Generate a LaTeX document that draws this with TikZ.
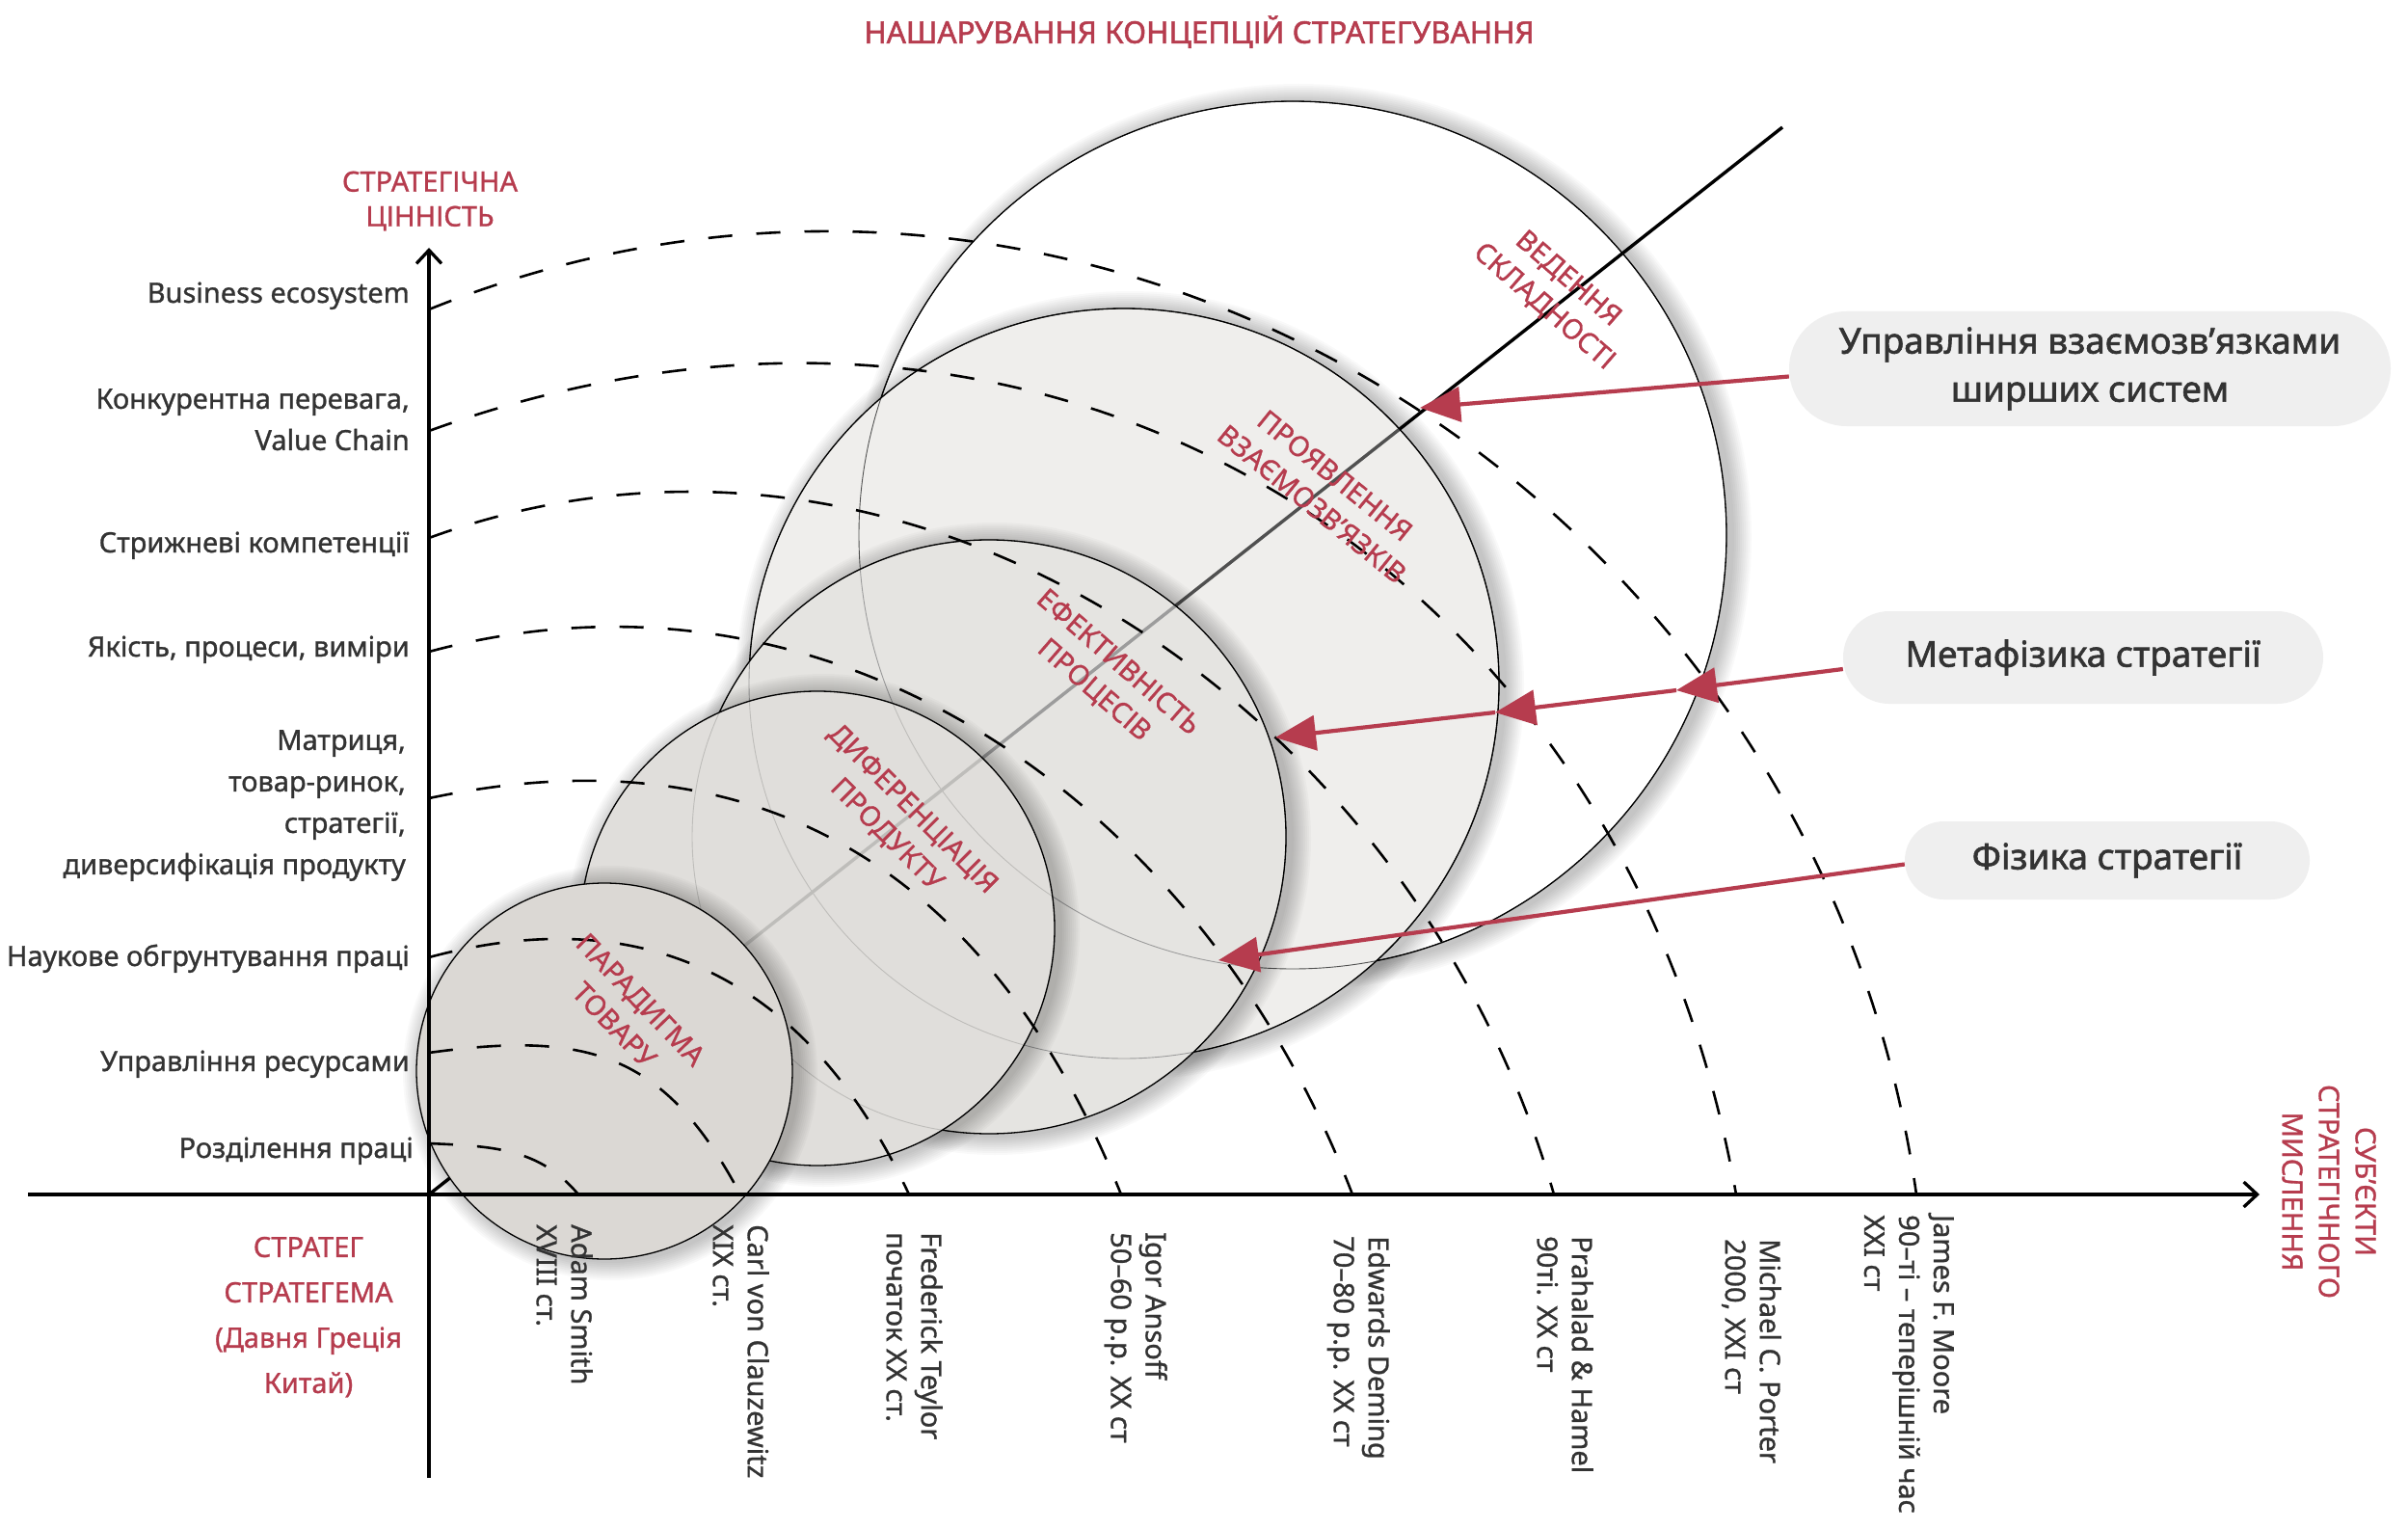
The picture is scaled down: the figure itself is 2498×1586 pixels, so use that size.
\documentclass[tikz,border=0pt]{standalone}
\usepackage{fontspec}
\setmainfont{Noto Sans}[FakeBold=1.0]
\newfontfamily\medfont[FakeBold=1.6]{Noto Sans}
\usetikzlibrary{arrows.meta,positioning,shapes.misc}

\definecolor{stratred}{HTML}{B63C4E}
\definecolor{labelgray}{HTML}{333333}
\definecolor{pillgray}{HTML}{EFEFEF}
\definecolor{fillB}{HTML}{EFEEEC}
\definecolor{fillC}{HTML}{E5E4E1}
\definecolor{fillD}{HTML}{E0DEDB}
\definecolor{fillE}{HTML}{DBD8D4}
\definecolor{lineB}{HTML}{505050}
\definecolor{lineC}{HTML}{9C9C9C}
\definecolor{lineD}{HTML}{BEBDBA}

\tikzset{
  ylab/.style={font=\fontsize{29}{43}\selectfont, text=labelgray, inner sep=0pt, align=right},
  xlab/.style={font=\fontsize{29}{36}\selectfont, text=labelgray, inner sep=0pt, align=left, rotate=-90, anchor=north west},
  redlab/.style={font=\fontsize{29}{38}\selectfont, text=stratred, inner sep=0pt, align=center},
  pill/.style={rounded rectangle, fill=pillgray, inner sep=0pt, font=\medfont\fontsize{37}{50}\selectfont, text=labelgray, align=center},
  era/.style={dash pattern=on 25pt off 25pt, line width=2.6pt},
  pointer/.style={draw=stratred, fill=stratred, line width=4.2pt, -{Triangle[length=42pt,width=36pt]}},
  axis/.style={line width=3.3pt, -{Straight Barb[length=14pt,width=26pt]}}
}

\begin{document}
\begin{tikzpicture}[x=1pt, y=1pt]
\useasboundingbox (0,0) rectangle (2498,-1586);
\fill[white] (0,0) rectangle (2498,-1586);
%\draw[step=100,gray,very thin] (0,0) grid (2498,-1586);
\coordinate (o) at (445,-1239);%%
\coordinate (d) at (1849,-132);%%
\draw[line width=3.4pt] (o) -- (d);%%
% circles, biggest first; shadow, fill, what shows through, outline
\foreach \cx/\cy/\r/\fc/\lc in {1341/-555/450/white/black, 1166/-709/389/fillB/lineB, 1026/-868/308/fillC/lineC, 848/-963/246/fillD/lineD, 627/-1111/195/fillE/fillE}{
  \foreach \s in {2,4,...,20} \fill[black, opacity=0.024] (\cx+6,\cy-2) circle (\r+\s);
  \fill[\fc] (\cx,\cy) circle (\r);
  \begin{scope}
    \clip (\cx,\cy) circle (\r);
    \draw[\lc, line width=3.4pt] (o) -- (d);
    \draw[\lc, line width=0.9pt] (1341,-555) circle (450) (1166,-709) circle (389) (1026,-868) circle (308) (848,-963) circle (246);
  \end{scope}
  \draw[line width=1.3pt] (\cx,\cy) circle (\r);
}
% axes
\draw[axis] (29,-1239) -- (2344,-1239);%%
\draw[axis] (445,-1533) -- (445,-257);%%
% dashed arcs from the value axis to the timeline
\draw[era] (445,-1186) .. controls (509,-1189) and (559,-1190) .. (600,-1239);%%
\draw[era] (445,-1092) .. controls (610,-1069) and (690,-1092) .. (768,-1239);%%
\draw[era] (445,-993) .. controls (676,-931) and (842,-1022) .. (943,-1239);%%
\draw[era] (445,-828) .. controls (793,-754) and (1030,-909) .. (1163,-1239);%%
\draw[era] (445,-676) .. controls (865,-563) and (1247,-833) .. (1403,-1239);%%
\draw[era] (445,-558) .. controls (942,-377) and (1466,-731) .. (1612,-1239);%%
\draw[era] (445,-447) .. controls (1080,-216) and (1684,-573) .. (1801,-1239);%%
\draw[era] (445,-321) .. controls (1129,-44) and (1885,-508) .. (1988,-1239);%%
% value axis
\node[ylab, anchor=base east] (ecosys) at (425,-314) {Business ecosystem};
\node[ylab, anchor=north east] (valuech) at (425,-403) {Конкурентна перевага,\\Value Chain};
\node[ylab, anchor=base east] (corecomp) at (425,-573) {Стрижневі компетенції};
\node[ylab, anchor=base east] (quality) at (425,-681) {Якість, процеси, виміри};
\node[ylab, anchor=north east] (matrix) at (421,-757) {Матриця,\\товар-ринок,\\стратегії,\\диверсифікація продукту};
\node[ylab, anchor=base east] (science) at (425,-1002) {Наукове обгрунтування праці};
\node[ylab, anchor=base east] (resource) at (425,-1111) {Управління ресурсами};
\node[ylab, anchor=base east] (division) at (429,-1201) {Розділення праці};
% timeline
\node[xlab] (smith) at (615,-1270) {Adam Smith\\XVIII ст.};
\node[xlab] (clausewitz) at (798,-1270) {Carl von Clauzewitz\\XIX ст.};
\node[xlab] (taylor) at (978,-1278) {Frederick Teylor\\початок XX ст.};
\node[xlab] (ansoff) at (1211,-1278) {Igor Ansoff\\50–60 р.р. XX ст};
\node[xlab] (deming) at (1442,-1282) {Edwards Deming\\70–80 р.р. XX ст};
\node[xlab] (prahalad) at (1653,-1282) {Prahalad \& Hamel\\90ті. XX ст};
\node[xlab] (porter) at (1848,-1285) {Michael C. Porter\\2000, XXI ст};
\node[xlab] (moore) at (2027,-1260) {James F. Moore\\90–ті – теперішній час\\XXI ст};
% red captions
\node[redlab, font=\medfont\fontsize{31.5}{36}\selectfont, anchor=base] (title) at (1244,-44.8) {НАШАРУВАННЯ КОНЦЕПЦІЙ СТРАТЕГУВАННЯ};
\node[redlab, anchor=north, font=\fontsize{29}{36}\selectfont] (valueaxis) at (446,-177.5) {СТРАТЕГІЧНА\\ЦІННІСТЬ};
\node[redlab, anchor=north, font=\fontsize{29}{47}\selectfont] (strateg) at (320,-1282.7) {СТРАТЕГ\\СТРАТЕГЕМА\\(Давня Греція\\Китай)};
\node[redlab, rotate=-90] (subjects) at (2416,-1236) {СУБ’ЄКТИ\\СТРАТЕГІЧНОГО\\МИСЛЕННЯ};
\node[redlab, rotate=-41] (complexity) at (1614,-304) {ВЕДЕННЯ\\СКЛАДНОСТІ};
\node[redlab, rotate=-39] (relations) at (1373,-508) {ПРОЯВЛЕННЯ\\ВЗАЄМОЗВ’ЯЗКІВ};
\node[redlab, rotate=-41] (efficiency) at (1147,-702) {ЕФЕКТИВНІСТЬ\\ПРОЦЕСІВ};
\node[redlab, rotate=-45] (differ) at (933,-853) {ДИФЕРЕНЦІАЦІЯ\\ПРОДУКТУ};
\node[redlab, rotate=-46] (paradigm) at (651,-1050) {ПАРАДИГМА\\ТОВАРУ};
% pills and pointers
\node[pill, minimum width=624pt, minimum height=119pt] (widersys) at (2168,-382.5) {Управління взаємозв’язками\\ширших систем};
\node[pill, minimum width=498pt, minimum height=96pt] (metaphys) at (2161,-682) {Метафізика стратегії};
\node[pill, minimum width=420pt, minimum height=81pt] (physics) at (2186,-892.5) {Фізика стратегії};
\coordinate (tipA) at (1473,-423);%%
\coordinate (tipB1) at (1739,-716);%%
\coordinate (tipB2) at (1551,-739);%%
\coordinate (tipB3) at (1323,-765);%%
\coordinate (tipC) at (1264,-996);%%
\draw[pointer] ([yshift=-8pt]widersys.west) -- (tipA);%%
\draw[pointer] ([yshift=-12pt]metaphys.west) -- (tipB1);%%
\draw[pointer] (tipB1) -- (tipB2);%%
\draw[pointer] (tipB2) -- (tipB3);%%
\draw[pointer] ([yshift=-4pt]physics.west) -- (tipC);%%
\end{tikzpicture}
\end{document}
